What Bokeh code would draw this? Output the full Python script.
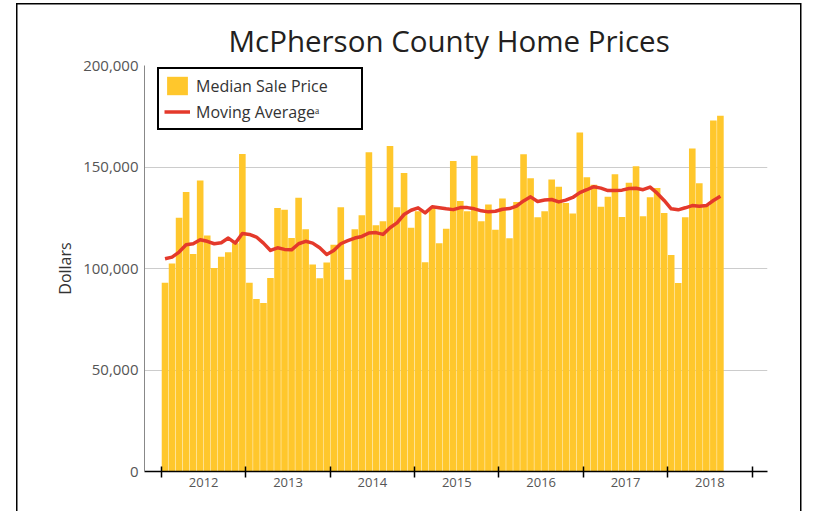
import numpy as np
from bokeh.plotting import figure
from bokeh.models import (ColumnDataSource, FixedTicker, NumeralTickFormatter, Legend,
                          LegendItem, Range1d)
from bokeh.embed import file_html
from bokeh.resources import INLINE

# ---------------- data ----------------
years = ["2012", "2013", "2014", "2015", "2016", "2017", "2018"]

price_2012 = [93000, 102500, 125000, 137700, 107200, 143300, 116300, 100300, 105800, 108000, 112500, 156400]
price_2013 = [93000, 85000, 83000, 95300, 129800, 129000, 115000, 134800, 119300, 102000, 95200, 103000]
price_2014 = [111700, 130200, 94400, 119300, 126200, 157300, 121300, 123300, 160400, 130200, 147000, 120100]
price_2015 = [128200, 103100, 129900, 112500, 119600, 153000, 133200, 128200, 155500, 123300, 131500, 119100]
price_2016 = [134500, 114900, 132800, 156300, 144400, 125300, 128200, 143900, 140300, 132300, 127100, 167000]
price_2017 = [144900, 141300, 130400, 135300, 146400, 125400, 142200, 150400, 125800, 135100, 139700, 127300]
price_2018 = [106600, 92800, 125300, 159100, 142000, 131000, 172900, 175200]

avg_2012 = [104800, 105600, 108100, 111700, 112200, 114200, 113400, 112200, 112700, 115000, 112500, 117200]
avg_2013 = [116800, 115500, 112500, 108900, 110200, 109400, 109200, 112200, 113400, 112500, 110200, 106900]
avg_2014 = [108900, 112200, 113700, 115000, 115800, 117500, 117700, 116800, 120100, 122500, 126600, 128700]
avg_2015 = [129900, 127400, 130400, 129900, 129400, 129000, 130000, 130000, 129400, 128400, 127900, 128200]
avg_2016 = [129200, 129500, 130700, 133300, 135300, 133000, 133700, 134000, 132800, 133700, 135000, 137400]
avg_2017 = [138800, 140300, 139600, 138400, 138400, 138600, 139400, 139500, 138800, 140100, 137100, 133500]
avg_2018 = [129400, 128900, 129900, 131000, 130700, 131000, 133500, 135600]

median_price = price_2012 + price_2013 + price_2014 + price_2015 + price_2016 + price_2017 + price_2018
moving_avg = avg_2012 + avg_2013 + avg_2014 + avg_2015 + avg_2016 + avg_2017 + avg_2018

month_index = np.arange(len(median_price))
src = ColumnDataSource(dict(x=month_index + 0.5, price=median_price, avg=moving_avg))

FONT = "Open Sans"
BAR = "#FFC72C"
RED = "#E4392B"

# decorative outer frame (left, top and right rules) drawn behind the canvas
frame_css = ("linear-gradient(#000,#000) 16px 3px / 1.5px 700px no-repeat, "
             "linear-gradient(#000,#000) 16px 3px / 785px 1.5px no-repeat, "
             "linear-gradient(#000,#000) 800px 3px / 1.5px 700px no-repeat, #ffffff")

p = figure(width=805, height=511, output_backend="svg", toolbar_location=None,
           x_range=Range1d(-2.42, 86.2), y_range=Range1d(0, 200000),
           min_border_left=144, min_border_right=38, min_border_top=65, min_border_bottom=40,
           styles={"background": frame_css})
p.outline_line_color = None
p.background_fill_color = "white"
p.border_fill_color = None

p.title.text = "McPherson County Home Prices"
p.title.align = "left"
p.title.offset = 84
p.title.text_font = FONT
p.title.text_font_size = "29.5px"
p.title.text_font_style = "normal"
p.title.text_color = "#231f20"

bars = p.vbar(x="x", top="price", width=0.94, source=src, fill_color=BAR, line_color=None)
line = p.line(x="x", y="avg", source=src, line_color=RED, line_width=3.5, line_join="round")

# x axis: ticks at year boundaries, labels in the middle of each year
label_pos = [12 * i + 6 for i in range(len(years))]
boundaries = [12 * i for i in range(len(years) + 1)]
p.xaxis.ticker = FixedTicker(ticks=label_pos, minor_ticks=boundaries)
p.xaxis.major_label_overrides = {pos: yr for pos, yr in zip(label_pos, years)}
p.xaxis.major_tick_in = 0
p.xaxis.major_tick_out = 0
p.xaxis.minor_tick_in = 5
p.xaxis.minor_tick_out = 6
p.xaxis.minor_tick_line_color = "black"
p.xaxis.minor_tick_line_width = 1.5
p.xaxis.axis_line_color = "black"
p.xaxis.axis_line_width = 1.5
p.xaxis.major_label_text_font = FONT
p.xaxis.major_label_text_font_size = "13px"
p.xaxis.major_label_text_color = "#555555"
p.xaxis.major_label_standoff = 0
p.xgrid.grid_line_color = None

# y axis
p.yaxis.ticker = FixedTicker(ticks=[0, 50000, 100000, 150000, 200000])
p.yaxis.formatter = NumeralTickFormatter(format="0,0")
p.yaxis.major_tick_in = 0
p.yaxis.major_tick_out = 0
p.yaxis.minor_tick_line_color = None
p.yaxis.axis_line_color = "#888888"
p.yaxis.major_label_text_font = FONT
p.yaxis.major_label_text_font_size = "15px"
p.yaxis.major_label_text_color = "#555555"
p.yaxis.major_label_standoff = 6
p.yaxis.axis_label = "Dollars"
p.yaxis.axis_label_text_font = FONT
p.yaxis.axis_label_text_font_size = "16px"
p.yaxis.axis_label_text_font_style = "normal"
p.yaxis.axis_label_text_color = "#333333"
p.yaxis.axis_label_standoff = 4
p.ygrid.grid_line_color = "#cccccc"
p.ygrid.grid_line_width = 1

legend = Legend(items=[LegendItem(label="Median Sale Price", renderers=[bars]),
                       LegendItem(label="Moving Averageᵃ", renderers=[line])],
                location=(13, 341), margin=0, padding=5, spacing=3,
                glyph_width=26, glyph_height=23, label_height=23, label_width=160,
                label_standoff=6, border_line_color="black", border_line_width=2,
                border_line_alpha=1,
                label_text_font=FONT, label_text_font_size="16px", label_text_color="#333333",
                background_fill_color="white", background_fill_alpha=1)
p.add_layout(legend)

open("out.html", "w").write(file_html(p, INLINE))
